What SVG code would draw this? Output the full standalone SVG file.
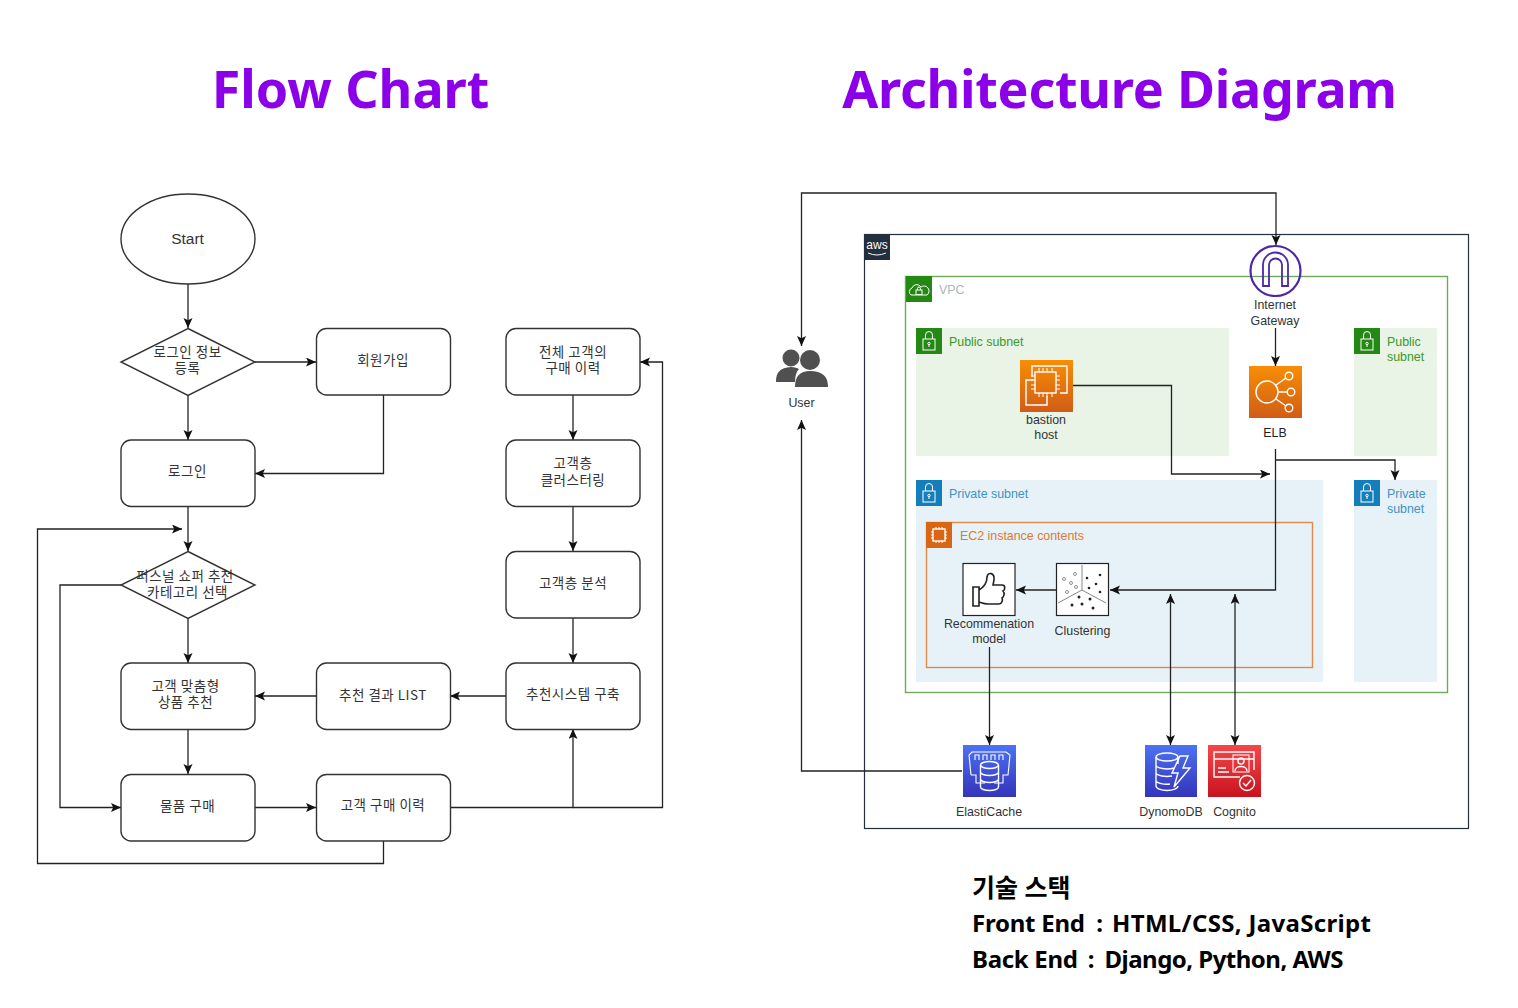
<svg xmlns="http://www.w3.org/2000/svg" width="1518" height="1008" viewBox="0 0 1518 1008">
<style>
text{font-family:"Liberation Sans","Noto Sans CJK KR",sans-serif;font-size:12.4px;fill:#333;text-anchor:middle}
.title{font-family:"Noto Sans","Noto Sans CJK KR",sans-serif;font-size:52px;font-weight:700;fill:#8b00e8}
.k{font-family:"Noto Sans CJK KR",sans-serif;font-size:13.500px;letter-spacing:.5px}
.st{font-family:"Noto Sans","Noto Sans CJK KR",sans-serif;font-size:24px;font-weight:700;fill:#000;text-anchor:start}
.l{text-anchor:start}
.box{fill:#fff;stroke:#333;stroke-width:1.4}
.c path{fill:none;stroke:#222;stroke-width:1.3}
.ic{fill:none;stroke:#fff;stroke-width:1.4}
</style>
<defs>
<marker id="a" markerUnits="userSpaceOnUse" markerWidth="12" markerHeight="12" refX="10" refY="4.500" orient="auto-start-reverse"><path d="M0,0 L10,4.500 L0,9 L2.200,4.500 Z" fill="#111"/></marker>
<linearGradient id="or" x1="0" y1="0" x2="0" y2="1"><stop offset="0" stop-color="#F78E04"/><stop offset="1" stop-color="#D05C17"/></linearGradient>
<linearGradient id="bl" x1="0" y1="0" x2="0" y2="1"><stop offset="0" stop-color="#4D72F3"/><stop offset="1" stop-color="#3334B9"/></linearGradient>
<linearGradient id="rd" x1="0" y1="0" x2="0" y2="1"><stop offset="0" stop-color="#F54749"/><stop offset="1" stop-color="#C7131F"/></linearGradient>
<g id="lock"><rect x="7" y="11" width="12" height="11" class="ic" style="stroke-width:1"/><path d="M9.500,11V7a3.500,3.500 0 0 1 7,0V11" class="ic" style="stroke-width:1"/><circle cx="13" cy="15.500" r="1.200" class="ic" style="stroke-width:1"/><path d="M13,16.700V19" class="ic" style="stroke-width:1"/></g>
</defs>
<rect width="1518" height="1008" fill="#fff"/>

<text class="title" x="350.500" y="108">Flow Chart</text>
<text class="title" x="1119.500" y="108" style="letter-spacing:-.25px">Architecture Diagram</text>

<g id="aws-cloud"><rect x="864.500" y="234.500" width="604" height="594" fill="#fff" stroke="#232F3E" stroke-width="1.200"/><rect x="864" y="234" width="26" height="26" fill="#232F3E"/><text x="877" y="249" style="font-size:12px;fill:#fff">aws</text><path d="M868,253q9,4 18,0" stroke="#fff" fill="none"/></g>
<g id="vpc"><rect x="905.500" y="276.500" width="542" height="416" fill="#fff" stroke="#70a85c" stroke-width="1.400"/><rect x="906" y="276" width="26" height="26" fill="#248814"/><path d="M911,295a4,4 0 0 1 1,-7a5,5 0 0 1 9,-1a4,4 0 0 1 6,8Z" class="ic" style="stroke-width:1"/><rect x="916" y="290" width="6" height="4.500" class="ic" style="stroke-width:1"/><path d="M917.500,290v-1.500a1.500,1.500 0 0 1 3,0V290" class="ic" style="stroke-width:1"/><text class="l" x="939" y="294" style="fill:#AAB7B8">VPC</text></g>
<g id="public-subnet-a"><rect x="916" y="328" width="313" height="128" fill="#E9F3E6"/><rect x="916" y="328" width="26" height="26" fill="#248814"/><use href="#lock" x="916" y="328"/><text class="l" x="949" y="346" style="fill:#3a9a2a">Public subnet</text></g>
<g id="public-subnet-b"><rect x="1354" y="328" width="83" height="128" fill="#E9F3E6"/><rect x="1354" y="328" width="26" height="26" fill="#248814"/><use href="#lock" x="1354" y="328"/><text class="l" x="1387" y="346" style="fill:#3a9a2a">Public<tspan x="1387" dy="15">subnet</tspan></text></g>
<g id="private-subnet-a"><rect x="916" y="480" width="407" height="202" fill="#E6F2F8"/><rect x="916" y="480" width="26" height="26" fill="#147EBA"/><use href="#lock" x="916" y="480"/><text class="l" x="949" y="498" style="fill:#3f93c4">Private subnet</text></g>
<g id="private-subnet-b"><rect x="1354" y="480" width="83" height="202" fill="#E6F2F8"/><rect x="1354" y="480" width="26" height="26" fill="#147EBA"/><use href="#lock" x="1354" y="480"/><text class="l" x="1387" y="498" style="fill:#3f93c4">Private<tspan x="1387" dy="15">subnet</tspan></text></g>
<g id="ec2-contents"><rect x="926.500" y="522.500" width="386" height="145" fill="none" stroke="#E08A4C" stroke-width="1.400"/><rect x="926" y="522" width="26" height="26" fill="#D86613"/><rect x="933" y="529" width="12" height="12" class="ic"/><path d="M936,527v2M939,527v2M942,527v2M936,541v2M939,541v2M942,541v2M931,532h2M931,535h2M931,538h2M945,532h2M945,535h2M945,538h2" class="ic" style="stroke-width:1"/><text class="l" x="960" y="540" style="fill:#dd7a30">EC2 instance contents</text></g>

<g class="c" id="connectors">
<path d="M188,284V328" marker-end="url(#a)"/>
<path d="M255,362H316" marker-end="url(#a)"/>
<path d="M188,395V440" marker-end="url(#a)"/>
<path d="M383.500,395V473.500H255" marker-end="url(#a)"/>
<path d="M188,506V551" marker-end="url(#a)"/>
<path d="M188,618V663" marker-end="url(#a)"/>
<path d="M121,585H60V807.500H121" marker-end="url(#a)"/>
<path d="M188,729V774" marker-end="url(#a)"/>
<path d="M255,807.500H316" marker-end="url(#a)"/>
<path d="M383.500,841V863.500H37.500V529H182" marker-end="url(#a)"/>
<path d="M450,807.500H573V729" marker-end="url(#a)"/>
<path d="M573,807.500H662.500V362H640" marker-end="url(#a)"/>
<path d="M506,696H450" marker-end="url(#a)"/>
<path d="M316,696H255" marker-end="url(#a)"/>
<path d="M573,395V440" marker-end="url(#a)"/>
<path d="M573,506V551" marker-end="url(#a)"/>
<path d="M573,618V663" marker-end="url(#a)"/>
<path d="M962,771H801.500V420" marker-end="url(#a)"/>
<path d="M801.500,346V193H1276V245" marker-start="url(#a)" marker-end="url(#a)"/>
<path d="M1275.500,328V366" marker-end="url(#a)"/>
<path d="M1275.500,449V590H1110" marker-end="url(#a)"/>
<path d="M1275.500,460H1395V480" marker-end="url(#a)"/>
<path d="M1073,385.500H1171.500V474H1270" marker-end="url(#a)"/>
<path d="M1056,590H1016" marker-end="url(#a)"/>
<path d="M989.500,647V745" marker-end="url(#a)"/>
<path d="M1170.500,594V745" marker-start="url(#a)" marker-end="url(#a)"/>
<path d="M1235,594V745" marker-start="url(#a)" marker-end="url(#a)"/>
</g>

<g id="start"><ellipse class="box" cx="188" cy="239" rx="67" ry="45"/><text x="187.500" y="244" style="font-size:15.500px">Start</text></g>
<g id="login-info"><path class="box" d="M188,328.500L255,362L188,395.500L121,362Z"/><text class="k" x="187.500" y="357">로그인 정보<tspan x="187.500" dy="16">등록</tspan></text></g>
<g id="signup"><rect class="box" x="316.500" y="328.500" width="134" height="66.500" rx="10"/><text class="k" x="383" y="365">회원가입</text></g>
<g id="login"><rect class="box" x="121" y="440" width="134" height="66.500" rx="10"/><text class="k" x="187.500" y="476">로그인</text></g>
<g id="category"><path class="box" d="M188,551.500L255,585L188,618.500L121,585Z"/><text class="k" x="185" y="581">퍼스널 쇼퍼 추천<tspan x="187.500" dy="16">카테고리 선택</tspan></text></g>
<g id="recommend"><rect class="box" x="121" y="663" width="134" height="66.500" rx="10"/><text class="k" x="185.500" y="691">고객 맞춤형<tspan x="185.500" dy="16">상품 추천</tspan></text></g>
<g id="purchase"><rect class="box" x="121" y="774.500" width="134" height="66.500" rx="10"/><text class="k" x="187.500" y="811">물품 구매</text></g>
<g id="result-list"><rect class="box" x="316.500" y="663" width="134" height="66.500" rx="10"/><text class="k" x="383" y="700">추천 결과 LIST</text></g>
<g id="history"><rect class="box" x="316.500" y="774.500" width="134" height="66.500" rx="10"/><text class="k" x="383" y="810">고객 구매 이력</text></g>
<g id="all-history"><rect class="box" x="506" y="328.500" width="134" height="66.500" rx="10"/><text class="k" x="573" y="357">전체 고객의<tspan x="573" dy="16">구매 이력</tspan></text></g>
<g id="clustering-step"><rect class="box" x="506" y="440" width="134" height="66.500" rx="10"/><text class="k" x="573" y="468">고객층<tspan x="573" dy="17">클러스터링</tspan></text></g>
<g id="analysis"><rect class="box" x="506" y="551.500" width="134" height="66.500" rx="10"/><text class="k" x="573" y="588">고객층 분석</text></g>
<g id="build"><rect class="box" x="506" y="663" width="134" height="66.500" rx="10"/><text class="k" x="573" y="699">추천시스템 구축</text></g>

<g id="user"><circle cx="791" cy="358" r="8.500" fill="#505050"/><circle cx="810" cy="360" r="10" fill="#505050"/><path d="M776,382c0,-10 4,-14 15,-15c4,0 6,1 8,2c-3,3 -4,8 -4,13Z" fill="#505050"/><path d="M795,387c0,-11 5,-16 15,-16c12,0 18,5 18,16Z" fill="#505050"/><text x="801.500" y="407">User</text></g>
<g id="bastion"><rect x="1020" y="360" width="53" height="52" fill="url(#or)"/><path d="M1032,377V366H1067V393H1060M1047,396V405H1026V380H1033" class="ic"/><rect x="1035" y="372" width="21" height="21" class="ic"/><path d="M1039,368v4M1043,368v4M1047,368v4M1052,368v4M1039,393v4M1043,393v4M1047,393v4M1052,393v4M1031,376h4M1031,380h4M1031,385h4M1031,389h4M1056,376h4M1056,380h4M1056,385h4M1056,389h4" class="ic" style="stroke-width:1"/><text x="1046" y="424">bastion<tspan x="1046" dy="15">host</tspan></text></g>
<g id="igw"><circle cx="1275.500" cy="271" r="25" fill="none" stroke="#4D27AA" stroke-width="2.200"/><path d="M1263,286V265a12.500,12.500 0 0 1 25,0V286H1282V265a6.500,6.500 0 0 0 -13,0V286Z" fill="none" stroke="#4D27AA" stroke-width="1.800"/><text x="1275" y="309">Internet<tspan x="1275" dy="16">Gateway</tspan></text></g>
<g id="elb"><rect x="1249" y="366" width="53" height="52" fill="url(#or)"/><circle cx="1267" cy="392" r="11" class="ic"/><circle cx="1289" cy="376" r="3.800" class="ic"/><circle cx="1291" cy="392" r="3.800" class="ic"/><circle cx="1289" cy="408" r="3.800" class="ic"/><path d="M1276,385L1286,378M1278,392H1287M1276,399L1286,406" class="ic"/><text x="1275" y="437" style="fill:#222">ELB</text></g>
<g id="recommendation"><rect x="963" y="563.500" width="52" height="52" fill="#fff" stroke="#222" stroke-width="1.200"/><path d="M973,587H979V606H973ZM979,590C984,587 987,582 987,577C988,571 995,573 994,580L993,585H1002C1006,585 1005,590 1003,591C1005,593 1004,597 1002,598C1003,600 1002,604 999,604H988C984,604 982,603 979,602" fill="none" stroke="#222" stroke-width="1.600"/><text x="989" y="628">Recommenation<tspan x="989" dy="15">model</tspan></text></g>
<g id="clustering"><rect x="1056.500" y="563.500" width="52" height="52" fill="#fff" stroke="#222" stroke-width="1.200"/><path d="M1082,565V590M1082,590L1058,603M1082,590L1106,603" stroke="#888" fill="none"/><g fill="#fff" stroke="#666" stroke-width=".7"><circle cx="1064" cy="579" r="1.500"/><circle cx="1075" cy="574" r="1.500"/><circle cx="1071" cy="583" r="1.500"/><circle cx="1076" cy="587" r="1.500"/><circle cx="1067" cy="592" r="1.500"/></g><g fill="#222"><circle cx="1087" cy="578" r="1.300"/><circle cx="1100" cy="575" r="1.300"/><circle cx="1096" cy="584" r="1.300"/><circle cx="1089" cy="588" r="1.300"/><circle cx="1100" cy="592" r="1.300"/><circle cx="1079" cy="597" r="1.500"/><circle cx="1090" cy="599" r="1.500"/><circle cx="1072" cy="605" r="1.500"/><circle cx="1082" cy="604" r="1.500"/><circle cx="1093" cy="608" r="1.500"/></g><text x="1082.500" y="635">Clustering</text></g>
<g id="elasticache"><rect x="963" y="745" width="53" height="52" fill="url(#bl)"/><path d="M971,775H976V783H985M971,775L969,755L972,752H1006L1010,755L1008,775H1003V783H994M975,760V755H979V760M983,760V755H987V760M991,760V755H995V760M999,760V755H1003V760" class="ic" style="stroke-width:1.100"/><ellipse cx="989.500" cy="765" rx="9" ry="3.500" class="ic"/><path d="M980.500,765V787a9,3.500 0 0 0 18,0V765M980.500,772a9,3.500 0 0 0 18,0M980.500,779a9,3.500 0 0 0 18,0" class="ic"/><text x="989" y="816">ElastiCache</text></g>
<g id="dynamodb"><rect x="1145" y="745" width="52" height="52" fill="url(#bl)"/><ellipse cx="1167" cy="757" rx="11" ry="4" class="ic"/><path d="M1156,757V786a11,4.500 0 0 0 22,0M1156,765a11,4 0 0 0 18,3M1156,773a11,4 0 0 0 16,3M1156,781a11,4 0 0 0 14,3M1178,757V764" class="ic"/><path d="M1180,756H1188L1183,768H1190L1174,787L1178,773H1172Z" class="ic"/><text x="1171" y="816">DynomoDB</text></g>
<g id="cognito"><rect x="1208" y="745" width="53" height="52" fill="url(#rd)"/><path d="M1240,777H1214V752H1254V770M1214,759H1254M1218,768H1226M1218,772H1229" class="ic"/><rect x="1233" y="755" width="16" height="17" class="ic" style="stroke-width:1"/><circle cx="1241" cy="761" r="3" class="ic"/><path d="M1235,771c0,-6 12,-6 12,0" class="ic"/><circle cx="1247" cy="783" r="7.500" class="ic"/><path d="M1243,783l3,3l5,-6" class="ic"/><text x="1234.500" y="816">Cognito</text></g>

<g id="tech-stack">
<text class="st" x="972" y="897" style="font-size:25px">기술 스택</text>
<text class="st" x="972" y="932" textLength="113">Front End</text>
<text class="st" x="1099.500" y="932" style="text-anchor:middle">:</text>
<text class="st" x="1112" y="932" textLength="259">HTML/CSS, JavaScript</text>
<text class="st" x="972" y="968" textLength="106">Back End</text>
<text class="st" x="1091" y="968" style="text-anchor:middle">:</text>
<text class="st" x="1104.500" y="968" textLength="239">Django, Python, AWS</text>
</g>
</svg>
